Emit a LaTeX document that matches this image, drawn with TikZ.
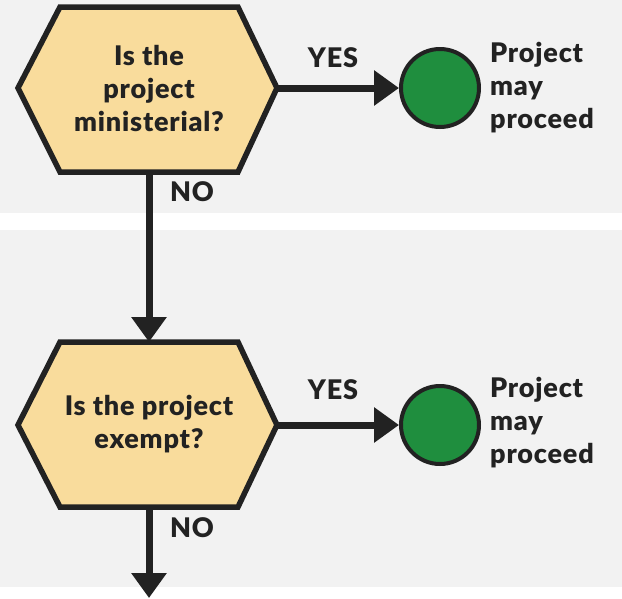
\documentclass[tikz,border=0pt]{standalone}
\usepackage{fontspec}
\setmainfont{Lato}[BoldFont={Lato Black}, BoldFeatures={LetterSpace=3}]
\usetikzlibrary{arrows.meta}
\definecolor{panel}{HTML}{F2F2F2}
\definecolor{hexfill}{HTML}{F9DC9C}
\definecolor{okgreen}{HTML}{1F8E3E}
\definecolor{ink}{HTML}{222222}
\tikzset{
  hexbox/.style={draw=ink, fill=hexfill, line width=5.5pt, line join=miter},
  flow/.style={draw=ink, line width=7pt, -{Triangle[width=34pt,length=25pt]}},
  lbl/.style={text=ink, font=\fontsize{27}{33}\selectfont\bfseries, inner sep=0pt},
  endpt/.style={circle, draw=ink, fill=okgreen, line width=4pt, minimum size=78pt, inner sep=0pt},
}
\begin{document}
\begin{tikzpicture}[x=1pt, y=-1pt]
  \useasboundingbox (0,0) rectangle (622,598);
  % panels
  \fill[panel] (0,0) rectangle (622,213);
  \fill[white] (0,213) rectangle (622,230);
  \fill[panel] (0,230) rectangle (622,587);
  \fill[white] (0,587) rectangle (622,598);

  % first question
  \coordinate (q1W) at (18,88);
  \coordinate (q1E) at (277,88);
  \coordinate (q1S) at (149,172);
  \draw[hexbox] (q1W) -- (60,7) -- (238,7) -- (q1E) -- (238,172) -- (60,172) -- cycle;
  \node[lbl, align=center] (q1) at (149,88) {Is the\\project\\ministerial?};

  % second question
  \coordinate (q2W) at (18,425);
  \coordinate (q2E) at (277,425);
  \coordinate (q2N) at (149,342);
  \coordinate (q2S) at (149,507);
  \draw[hexbox] (q2W) -- (60,342) -- (238,342) -- (q2E) -- (238,507) -- (60,507) -- cycle;
  \node[lbl, align=center] (q2) at (149,424) {Is the project\\exempt?};

  % outcomes
  \node[endpt] (ok1) at (440,88) {};
  \node[endpt] (ok2) at (440,425) {};
  \node[lbl, align=left, anchor=west] (t1) at (490,88) {Project\\may\\proceed};
  \node[lbl, align=left, anchor=west] (t2) at (490,423) {Project\\may\\proceed};

  % connectors
  \coordinate (out) at (149,598);
  \draw[flow] (q1E) -- (ok1.west);
  \draw[flow] (q2E) -- (ok2.west);
  \draw[flow] (q1S) -- (q2N);
  \draw[flow] (q2S) -- (out);

  % branch labels
  \node[lbl] (y1) at (333,58) {YES};
  \node[lbl] (y2) at (333,390) {YES};
  \node[lbl] (n1) at (192,192) {NO};
  \node[lbl] (n2) at (192,528) {NO};
\end{tikzpicture}
\end{document}
